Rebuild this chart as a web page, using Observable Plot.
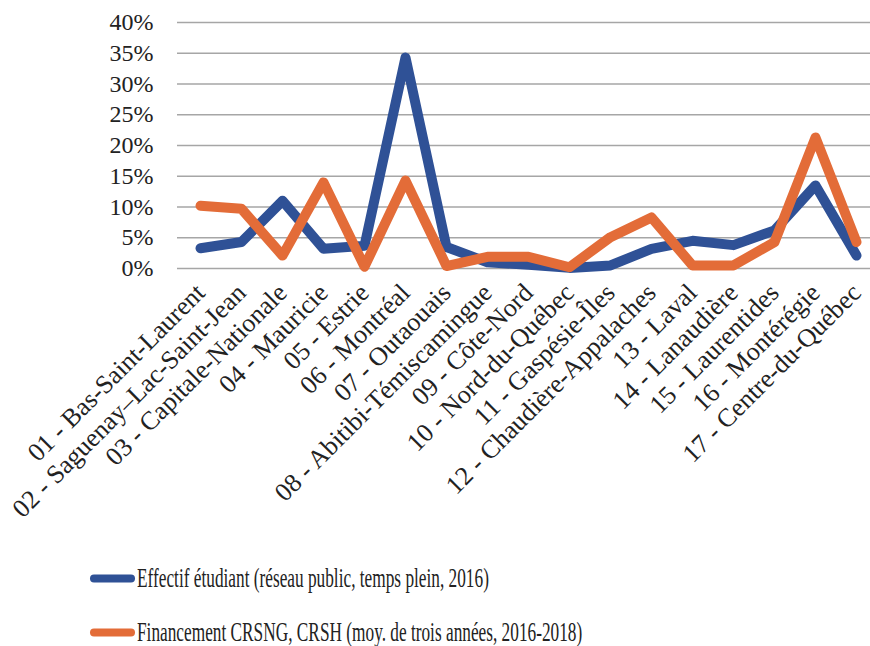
<!DOCTYPE html>
<html>
<head>
<meta charset="utf-8">
<script src="https://cdn.jsdelivr.net/npm/d3@7"></script>
<script src="https://cdn.jsdelivr.net/npm/@observablehq/plot@0.6"></script>
<style>
  body { margin: 0; background: #fff; font-family: "Liberation Serif", serif; }
  #chart { width: 870px; }
  #chart svg g[aria-label="x-axis tick label"] text { font-size: 26px; }
  .legend { position: relative; height: 116px; font-family: "Liberation Serif", serif; font-size: 27px; color: #222; }
  .item { position: absolute; left: 90px; display: flex; align-items: center; white-space: nowrap; }
  .sw { width: 45px; height: 8px; border-radius: 4px; margin-right: 2px; }
  .lbl { display: inline-block; transform: scaleX(0.64); transform-origin: left center; }
</style>
</head>
<body>
<div id="chart"></div>
<script>
const categories = [
  "01 - Bas-Saint-Laurent",
  "02 - Saguenay–Lac-Saint-Jean",
  "03 - Capitale-Nationale",
  "04 - Mauricie",
  "05 - Estrie",
  "06 - Montréal",
  "07 - Outaouais",
  "08 - Abitibi-Témiscamingue",
  "09 - Côte-Nord",
  "10 - Nord-du-Québec",
  "11 - Gaspésie-Îles",
  "12 - Chaudière-Appalaches",
  "13 - Laval",
  "14 - Lanaudière",
  "15 - Laurentides",
  "16 - Montérégie",
  "17 - Centre-du-Québec"
];
const effectif = [3.3, 4.3, 11.0, 3.2, 3.7, 34.3, 3.5, 1.0, 0.6, 0.1, 0.5, 3.2, 4.5, 3.8, 6.2, 13.5, 2.1];
const financement = [10.2, 9.7, 2.1, 14.0, 0.3, 14.3, 0.4, 1.9, 1.9, 0.2, 5.1, 8.3, 0.5, 0.5, 4.3, 21.3, 4.3];
const seriesNames = [
  "Effectif étudiant (réseau public, temps plein, 2016)",
  "Financement CRSNG, CRSH (moy. de trois années, 2016-2018)"
];
const seriesColors = ["#2F5196", "#E36C38"];
const yTicks = [0, 5, 10, 15, 20, 25, 30, 35, 40];

const data = [];
categories.forEach((c, i) => data.push({region: c, value: effectif[i], series: seriesNames[0]}));
categories.forEach((c, i) => data.push({region: c, value: financement[i], series: seriesNames[1]}));

const chart = Plot.plot({
  width: 870,
  height: 530,
  marginTop: 22,
  marginBottom: 262,
  marginLeft: 177,
  marginRight: 0,
  style: {fontFamily: "Liberation Serif, serif", fontSize: "24px", color: "#222", background: "#fff"},
  x: {type: "point", domain: categories, range: [197, 859], padding: 0, label: null, tickSize: 0, tickPadding: 20, tickRotate: -45},
  y: {domain: [0, 40], ticks: yTicks, tickFormat: d => d + "%", label: null, tickSize: 0, tickPadding: 24},
  color: {domain: seriesNames, range: seriesColors},
  marks: [
    Plot.ruleY(yTicks, {stroke: "#a6a6a6", strokeWidth: 1.6}),
    Plot.line(data, {x: "region", y: "value", z: "series", stroke: "series", strokeWidth: 10, strokeLinecap: "round", strokeLinejoin: "round"})
  ]
});
chart.querySelectorAll('g[aria-label="x-axis tick label"]').forEach(g => g.setAttribute("font-size", "26"));
document.getElementById("chart").appendChild(chart);

const legend = document.createElement("div");
legend.className = "legend";
seriesNames.forEach((name, i) => {
  const item = document.createElement("div");
  item.className = "item";
  item.style.top = (i === 0 ? 48 : 102) + "px";
  item.style.transform = "translateY(-50%)";
  const sw = document.createElement("span");
  sw.className = "sw";
  sw.style.background = seriesColors[i];
  const lbl = document.createElement("span");
  lbl.className = "lbl";
  lbl.textContent = name;
  item.appendChild(sw);
  item.appendChild(lbl);
  legend.appendChild(item);
});
document.body.appendChild(legend);
</script>
</body>
</html>
